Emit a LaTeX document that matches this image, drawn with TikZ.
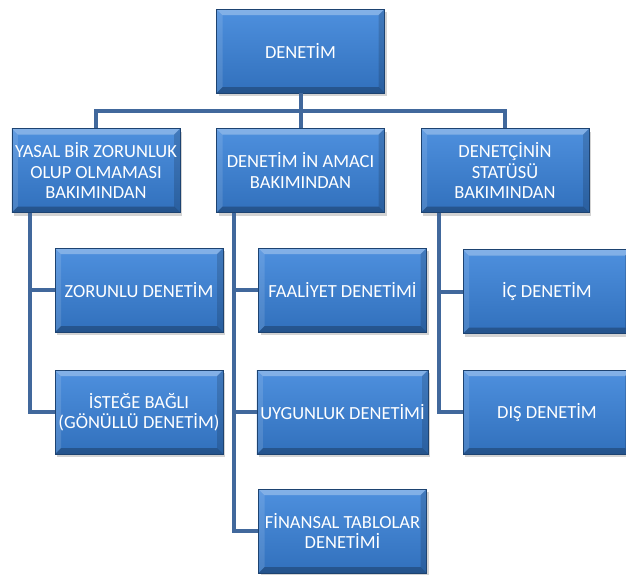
\documentclass[tikz,border=0pt]{standalone}
\usepackage{fontspec}
\setmainfont{Carlito}
\usepackage{tikz}
\usetikzlibrary{shadows}

\definecolor{kutuust}{HTML}{4E90DE}
\definecolor{kutualt}{HTML}{3170BC}
\definecolor{bagrenk}{HTML}{41689C}

\begin{document}
\begin{tikzpicture}[x=1pt,y=-1pt,
  birim/.style={rectangle,minimum width=168pt,minimum height=84pt,
    top color=kutuust,bottom color=kutualt,draw=kutualt!60!black,line width=0.4pt,
    text=white,align=center,font=\fontsize{18.5}{20.5}\selectfont,
    drop shadow={shadow xshift=2pt,shadow yshift=-3pt,opacity=0.35},
    path picture={
      \fill[white,opacity=0.30] (path picture bounding box.north west) -- (path picture bounding box.north east)
        -- ([xshift=-6pt,yshift=-6pt]path picture bounding box.north east) -- ([xshift=6pt,yshift=-6pt]path picture bounding box.north west) -- cycle;
      \fill[white,opacity=0.12] (path picture bounding box.north west) -- (path picture bounding box.south west)
        -- ([xshift=6pt,yshift=6pt]path picture bounding box.south west) -- ([xshift=6pt,yshift=-6pt]path picture bounding box.north west) -- cycle;
      \fill[black,opacity=0.15] (path picture bounding box.north east) -- (path picture bounding box.south east)
        -- ([xshift=-6pt,yshift=6pt]path picture bounding box.south east) -- ([xshift=-6pt,yshift=-6pt]path picture bounding box.north east) -- cycle;
      \fill[black,opacity=0.25] (path picture bounding box.south west) -- (path picture bounding box.south east)
        -- ([xshift=-6pt,yshift=6pt]path picture bounding box.south east) -- ([xshift=6pt,yshift=6pt]path picture bounding box.south west) -- cycle;
    }},
  bag/.style={draw=bagrenk,line width=4pt}]

  \useasboundingbox (0,0) rectangle (626,574);
  \clip (0,0) rectangle (626,574);

  \node[birim] (denetim) at (300.5,51) {DENET\.{I}M};

  \node[birim] (yasal)  at (96,170.5)  {YASAL B\.{I}R ZORUNLUK\\OLUP OLMAMASI\\BAKIMINDAN};
  \node[birim] (amac)   at (300.5,170.5) {DENET\.{I}M \.{I}N AMACI\\BAKIMINDAN};
  \node[birim] (statu)  at (505,170.5) {DENET\c{C}\.{I}N\.{I}N\\STAT\"{U}S\"{U}\\BAKIMINDAN};

  \node[birim] (zorunlu) at (139,290) {ZORUNLU DENET\.{I}M};
  \node[birim] (istege)  at (139,412) {\.{I}STE\u{G}E BA\u{G}LI\\(G\"{O}N\"{U}LL\"{U} DENET\.{I}M)};

  \node[birim] (faaliyet)  at (342.5,290) {FAAL\.{I}YET DENET\.{I}M\.{I}};
  \node[birim] (uygunluk)  at (342.5,412) {UYGUNLUK DENET\.{I}M\.{I}};
  \node[birim] (finansal)  at (342.5,531) {F\.{I}NANSAL TABLOLAR\\DENET\.{I}M\.{I}};

  \node[birim] (ic)  at (547,291.5) {\.{I}\c{C} DENET\.{I}M};
  \node[birim] (dis) at (547,412)   {DI\c{S} DENET\.{I}M};

  \coordinate (hat) at (300.5,111);

 \draw[bag] (denetim.south) -- (amac.north);
 \draw[bag] (yasal.north) |- (hat) -| (statu.north);

 \draw[bag] ([xshift=18pt]yasal.south west) |- (zorunlu.west);
 \draw[bag] ([xshift=18pt]yasal.south west) |- (istege.west);
 \draw[bag] ([xshift=18pt]amac.south west) |- (faaliyet.west);
 \draw[bag] ([xshift=18pt]amac.south west) |- (uygunluk.west);
 \draw[bag] ([xshift=18pt]amac.south west) |- (finansal.west);
 \draw[bag] ([xshift=18pt]statu.south west) |- (ic.west);
 \draw[bag] ([xshift=18pt]statu.south west) |- (dis.west);

\end{tikzpicture}
\end{document}
